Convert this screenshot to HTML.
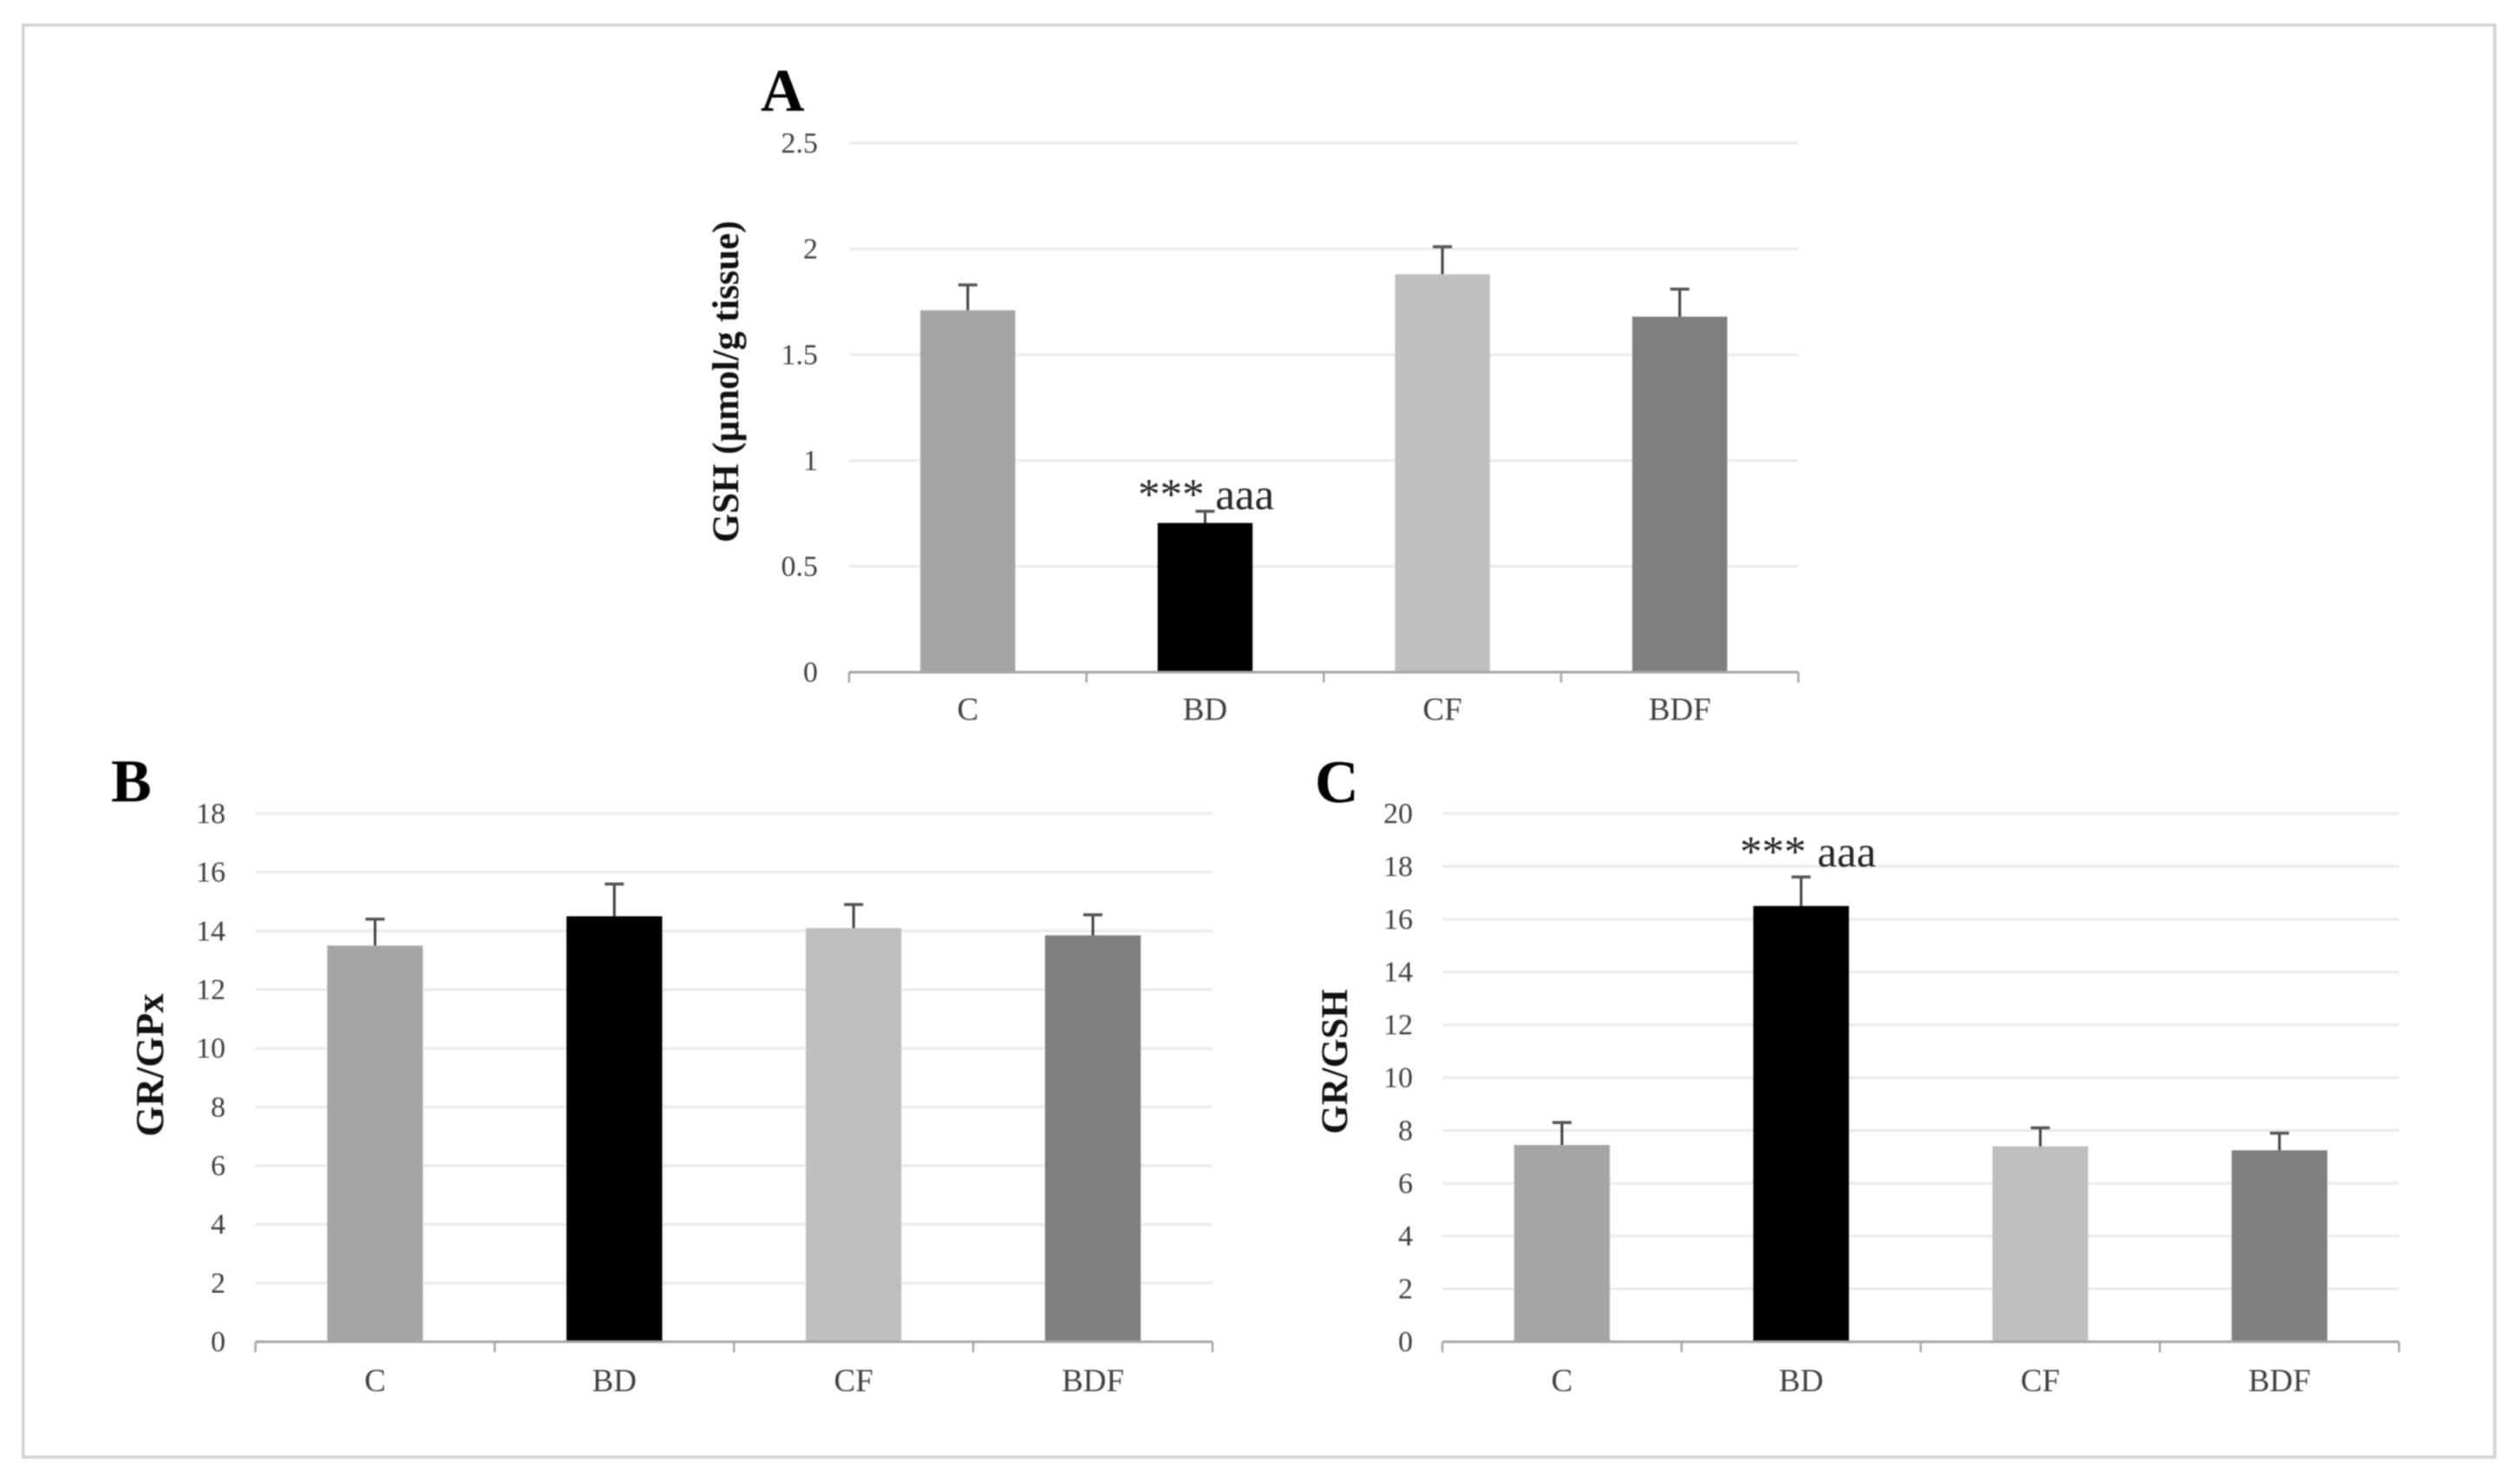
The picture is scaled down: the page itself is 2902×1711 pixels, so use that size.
<!DOCTYPE html>
<html lang="en">
<head>
<meta charset="utf-8">
<title>GSH, GR/GPx and GR/GSH bar charts</title>
<style>
html,body{margin:0;padding:0;background:#fff;}
body{width:2902px;height:1711px;overflow:hidden;}
svg{display:block;}
text{font-family:"Liberation Serif",serif;}
</style>
</head>
<body>
<svg id="figure" xmlns="http://www.w3.org/2000/svg" width="2902" height="1711" viewBox="0 0 2902 1711">
<g id="root" style="filter:blur(0.8px)">
<rect x="26.7" y="29" width="2849.6" height="1651" fill="none" stroke="#d2d2d2" stroke-width="3.6"/>
</g>
</svg>
<script>
const categories = ["C", "BD", "CF", "BDF"];
const barColors = ["#a5a5a5", "#000000", "#bfbfbf", "#7f7f7f"];

const gshValues = [1.71, 0.705, 1.88, 1.68];
const gshErrors = [0.12, 0.055, 0.13, 0.13];
const gshTicks = [0, 0.5, 1, 1.5, 2, 2.5];

const grGpxValues = [13.5, 14.5, 14.1, 13.85];
const grGpxErrors = [0.9, 1.1, 0.8, 0.7];
const grGpxTicks = [0, 2, 4, 6, 8, 10, 12, 14, 16, 18];

const grGshValues = [7.45, 16.5, 7.4, 7.25];
const grGshErrors = [0.85, 1.1, 0.7, 0.65];
const grGshTicks = [0, 2, 4, 6, 8, 10, 12, 14, 16, 18, 20];

const NS = "http://www.w3.org/2000/svg";
const root = document.getElementById("root");

function make(parent, tag, props, content) {
  const el = document.createElementNS(NS, tag);
  for (const k in props) el.setAttribute(k, props[k]);
  if (content !== undefined) el.textContent = content;
  parent.appendChild(el);
  return el;
}

function drawPanel(cfg) {
  const group = make(root, "g", {});
  
  

  const maxTick = Math.max(...cfg.ticks);
  const yScale = v => cfg.bottom - (v / maxTick) * (cfg.bottom - cfg.top);
  const band = (cfg.right - cfg.left) / cfg.categories.length;
  const xCenter = i => cfg.left + band * (i + 0.5);
  const barWidth = band * 0.4;

  cfg.ticks.forEach(t => {
    if (t !== 0) {
      const grid = make(group, "line", {x1: cfg.left, x2: cfg.right, y1: yScale(t), y2: yScale(t), stroke: "#ebebeb", "stroke-width": 3.2});
      
      
    }
    const label = make(group, "text", {x: cfg.tickLabelX, y: yScale(t) + 11, "text-anchor": "end", "font-size": 34, fill: "#404040"}, String(t));
    
    
  });

  cfg.values.forEach((v, i) => {
    const bar = make(group, "rect", {x: xCenter(i) - barWidth / 2, y: yScale(v), width: barWidth, height: cfg.bottom - yScale(v), fill: cfg.colors[i]});
    
    

    const top = yScale(v + cfg.errors[i]);
    const stem = make(group, "line", {x1: xCenter(i), x2: xCenter(i), y1: yScale(v), y2: top, stroke: "#404040", "stroke-width": 3});
    
    
    const cap = make(group, "line", {x1: xCenter(i) - 11, x2: xCenter(i) + 11, y1: top, y2: top, stroke: "#555555", "stroke-width": 3.5});
    
    
  });

  const axis = make(group, "line", {x1: cfg.left, x2: cfg.right, y1: cfg.bottom, y2: cfg.bottom, stroke: "#a6a6a6", "stroke-width": 3});
  
  

  for (let i = 0; i <= cfg.categories.length; i++) {
    const tx = cfg.left + band * i;
    const tick = make(group, "line", {x1: tx, x2: tx, y1: cfg.bottom, y2: cfg.bottom + 12, stroke: "#a6a6a6", "stroke-width": 2.5});
    
    
  }

  cfg.categories.forEach((c, i) => {
    const label = make(group, "text", {x: xCenter(i), y: cfg.catLabelY, "text-anchor": "middle", "font-size": 37, fill: "#404040"}, c);
    
    
  });

  const title = make(group, "text", {transform: "translate(" + cfg.titleX + "," + cfg.titleY + ") rotate(-90)", "text-anchor": "middle", "font-size": cfg.titleSize, "font-weight": "bold", fill: "#111111"}, cfg.title);
  
  

  const letter = make(group, "text", {x: cfg.letterX, y: cfg.letterY, "font-size": 70, "font-weight": "bold", fill: "#000000"}, cfg.letter);
  
  

  if (cfg.note) {
    const note = make(group, "text", {x: cfg.noteX, y: cfg.noteY, "font-size": 51, fill: "#262626"}, cfg.note);
    
    
  }
}

drawPanel({
  name: "panel-a-gsh-chart", letter: "A", letterX: 877, letterY: 128,
  categories: categories, colors: barColors, values: gshValues, errors: gshErrors, ticks: gshTicks,
  left: 979, right: 2073.5, top: 165, bottom: 775,
  tickLabelX: 943, catLabelY: 830,
  title: "GSH (µmol/g tissue)", titleX: 851, titleY: 440, titleSize: 43,
  note: "*** aaa", noteX: 1312, noteY: 587
});

drawPanel({
  name: "panel-b-gr-gpx-chart", letter: "B", letterX: 128, letterY: 924,
  categories: categories, colors: barColors, values: grGpxValues, errors: grGpxErrors, ticks: grGpxTicks,
  left: 294.5, right: 1398, top: 938, bottom: 1547,
  tickLabelX: 260, catLabelY: 1604,
  title: "GR/GPx", titleX: 188, titleY: 1228, titleSize: 45
});

drawPanel({
  name: "panel-c-gr-gsh-chart", letter: "C", letterX: 1516, letterY: 925,
  categories: categories, colors: barColors, values: grGshValues, errors: grGshErrors, ticks: grGshTicks,
  left: 1663, right: 2766, top: 938, bottom: 1547,
  tickLabelX: 1629, catLabelY: 1604,
  title: "GR/GSH", titleX: 1553, titleY: 1224, titleSize: 43,
  note: "*** aaa", noteX: 2006, noteY: 999
});
</script>
</body>
</html>
